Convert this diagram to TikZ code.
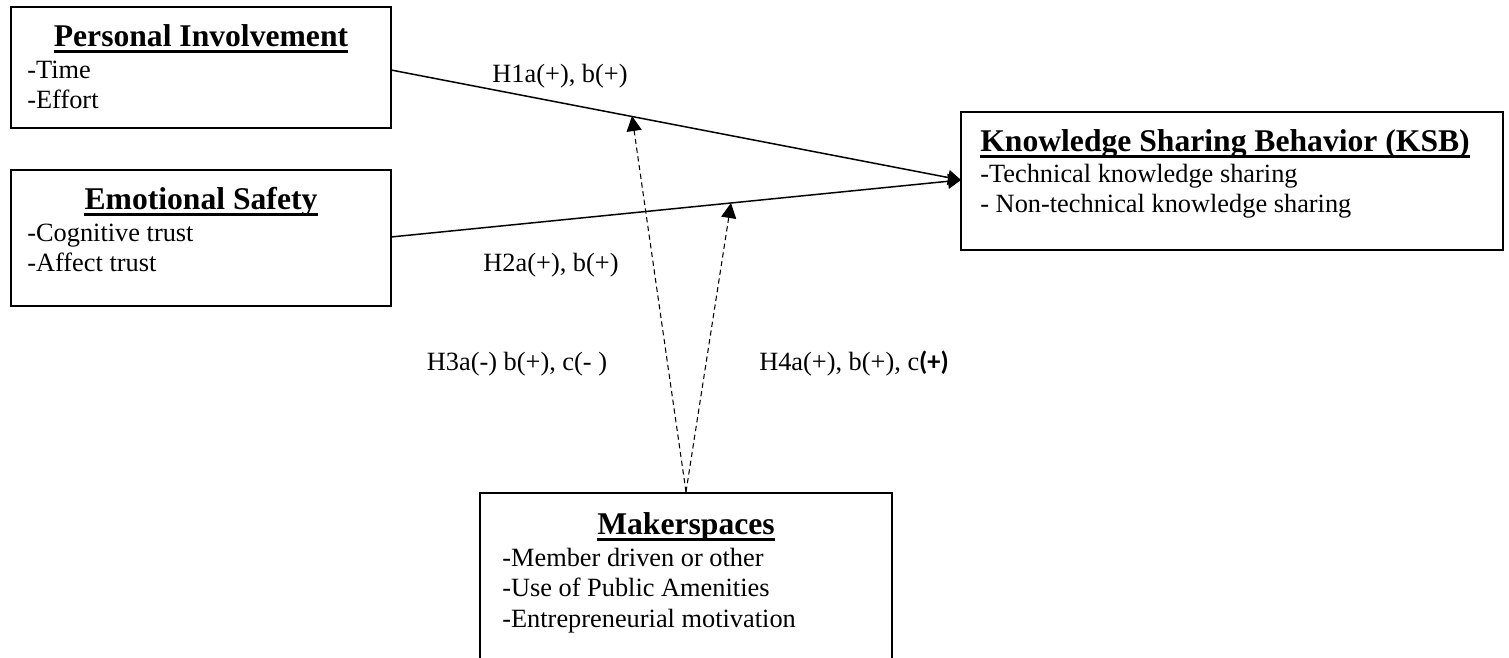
\documentclass[tikz,border=0pt]{standalone}
\usepackage{fontspec}
\setmainfont{Liberation Serif}
\newfontfamily\plusfont{Carlito}
\usetikzlibrary{arrows.meta}

\tikzset{
  box/.style={draw, line width=0.9pt, inner sep=0pt},
  title/.style={anchor=base, inner sep=0pt, font=\fontsize{18}{20}\selectfont\bfseries},
  ktitle/.style={title, anchor=base west},
  uline/.style={line width=1.4pt},
  item/.style={anchor=base west, inner sep=0pt, font=\fontsize{15}{17}\selectfont},
  hyp/.style={inner sep=0pt, font=\fontsize{15}{17}\selectfont},
  link/.style={line width=0.85pt, -{Triangle[length=0.26cm,width=0.3cm]}},
  moderation/.style={dash pattern=on 3pt off 2pt, line width=0.6pt, -{Triangle[length=0.3cm,width=0.3cm]}},
}

\begin{document}
\begin{tikzpicture}[x=0.02cm,y=-0.02cm]
\useasboundingbox (0,0) rectangle (1509,658);
\clip (0,0) rectangle (1509,658);

% boxes
\node[box, minimum width=7.6cm, minimum height=2.42cm] (pi) at (201,67.5) {};
\node[box, minimum width=7.6cm, minimum height=2.72cm] (es) at (201,238) {};
\node[box, line width=1.3pt, minimum width=10.84cm, minimum height=2.76cm] (ksb) at (1232,181) {};
\node[box, line width=1.3pt, minimum width=8.24cm, minimum height=4.6cm] (ms) at (686,608) {};

% titles
\node[title] (pi title) at (201,47) {Personal Involvement};
\node[title] (es title) at (201,210) {Emotional Safety};
\node[ktitle] (ksb title) at (980,152) {Knowledge Sharing Behavior (KSB)};
\node[title] (ms title) at (686,535) {Makerspaces};

\draw[uline] ([yshift=-2.6pt]pi title.base west) -- ([yshift=-2.6pt]pi title.base east);
\draw[uline] ([yshift=-2.6pt]es title.base west) -- ([yshift=-2.6pt]es title.base east);
\draw[uline] ([yshift=-2.6pt]ksb title.base west) -- ([yshift=-2.6pt]ksb title.base east);
\draw[uline] ([yshift=-2.6pt]ms title.base west) -- ([yshift=-2.6pt]ms title.base east);

% items
\node[item] (pi a) at (27,79) {-Time};
\node[item] (pi b) at (27,108.5) {-Effort};
\node[item] (es a) at (27,242) {-Cognitive trust};
\node[item] (es b) at (27,271.5) {-Affect trust};
\node[item] (ksb a) at (980,183) {-Technical knowledge sharing};
\node[item] (ksb b) at (980,212.5) {- Non-technical knowledge sharing};
\node[item] (ms a) at (502,567) {-Member driven or other};
\node[item] (ms b) at (502,597) {-Use of Public Amenities};
\node[item] (ms c) at (502,627) {-Entrepreneurial motivation};

% connector ends
\coordinate (pi out) at (391,70);
\coordinate (es out) at (391,237);
\coordinate (ksb in) at (961,180);
\coordinate (h1 mod) at (632,116);
\coordinate (h2 mod) at (731,203);

\path[draw,link] (pi out) -- (ksb in);
\path[draw,link] (es out) -- (ksb in);
\path[draw,moderation] (ms.north) -- (h1 mod);
\path[draw,moderation] (ms.north) -- (h2 mod);

% hypotheses
\node[hyp] (h1) at (560,76) {H1a(+), b(+)};
\node[hyp] (h2) at (551,265) {H2a(+), b(+)};
\node[hyp] (h3) at (517,364) {H3a(-) b(+), c(- )};
\node[hyp] (h4) at (854,364) {H4a(+), b(+), c{\plusfont\bfseries(+)}};
\end{tikzpicture}
\end{document}
